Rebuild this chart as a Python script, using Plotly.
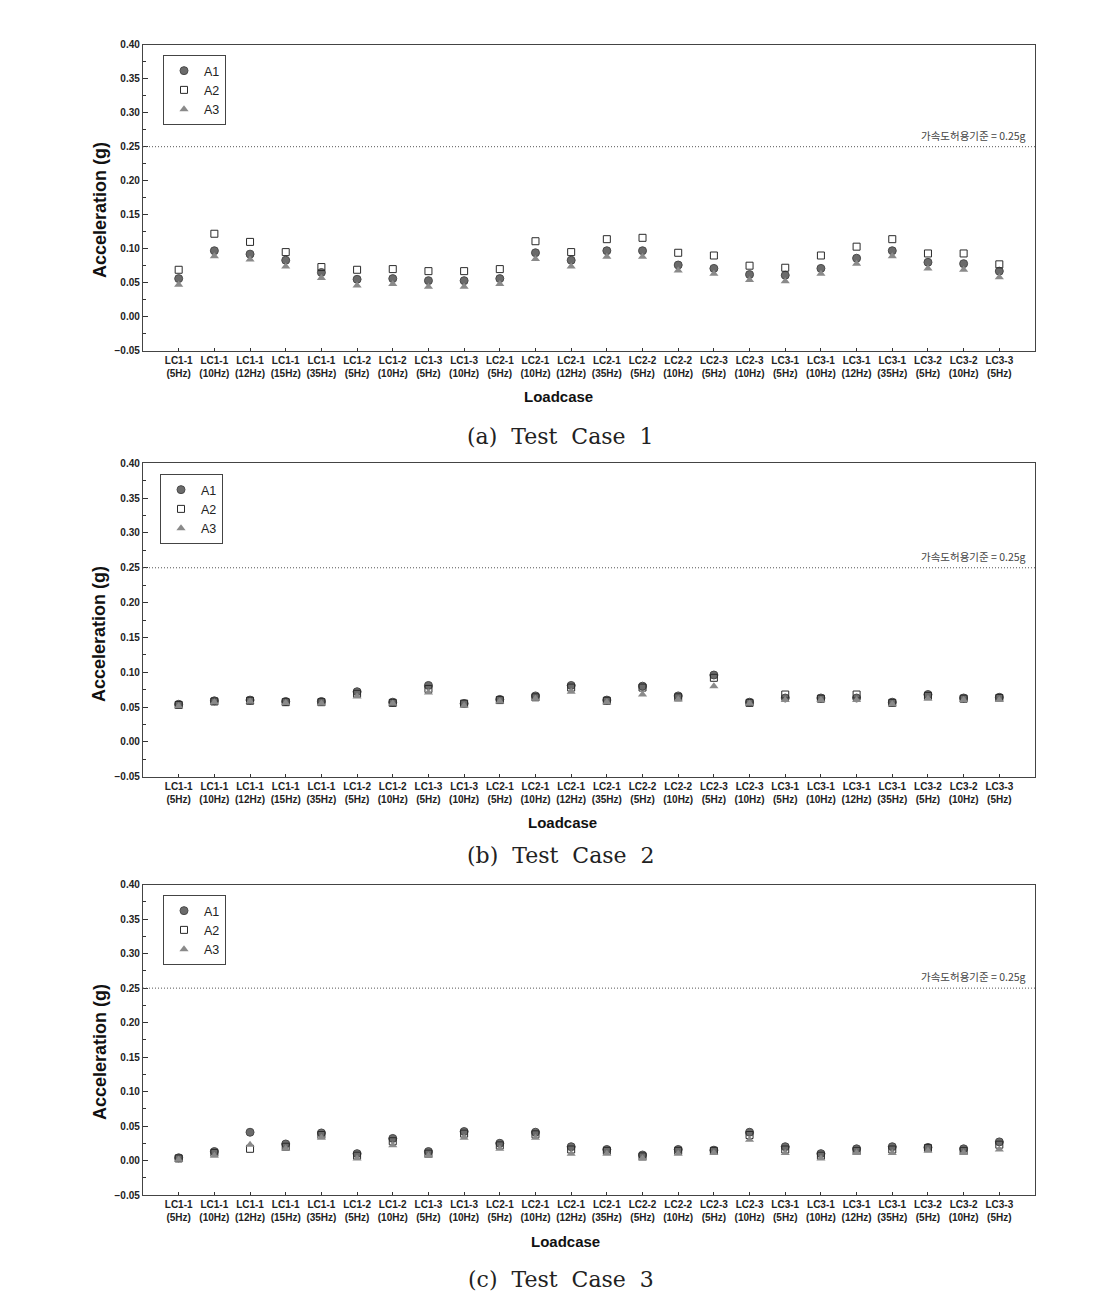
import plotly.graph_objects as go

# ---------------- data ----------------
categories = ["LC1-1<br>(5Hz)", "LC1-1<br>(10Hz)", "LC1-1<br>(12Hz)", "LC1-1<br>(15Hz)", "LC1-1<br>(35Hz)",
              "LC1-2<br>(5Hz)", "LC1-2<br>(10Hz)", "LC1-3<br>(5Hz)", "LC1-3<br>(10Hz)",
              "LC2-1<br>(5Hz)", "LC2-1<br>(10Hz)", "LC2-1<br>(12Hz)", "LC2-1<br>(35Hz)",
              "LC2-2<br>(5Hz)", "LC2-2<br>(10Hz)", "LC2-3<br>(5Hz)", "LC2-3<br>(10Hz)",
              "LC3-1<br>(5Hz)", "LC3-1<br>(10Hz)", "LC3-1<br>(12Hz)", "LC3-1<br>(35Hz)",
              "LC3-2<br>(5Hz)", "LC3-2<br>(10Hz)", "LC3-3<br>(5Hz)"]

tc1_A1 = [0.056, 0.097, 0.092, 0.083, 0.065, 0.055, 0.056, 0.053, 0.053, 0.056, 0.094, 0.083,
          0.097, 0.097, 0.076, 0.071, 0.062, 0.061, 0.071, 0.086, 0.097, 0.080, 0.078, 0.067]
tc1_A2 = [0.069, 0.122, 0.110, 0.095, 0.073, 0.069, 0.070, 0.067, 0.067, 0.070, 0.111, 0.095,
          0.114, 0.116, 0.094, 0.090, 0.075, 0.072, 0.090, 0.103, 0.114, 0.093, 0.093, 0.077]
tc1_A3 = [0.047, 0.089, 0.084, 0.074, 0.057, 0.046, 0.048, 0.044, 0.044, 0.048, 0.085, 0.074,
          0.088, 0.088, 0.068, 0.063, 0.054, 0.052, 0.063, 0.078, 0.089, 0.071, 0.069, 0.058]

tc2_A1 = [0.054, 0.059, 0.060, 0.058, 0.058, 0.072, 0.057, 0.081, 0.055, 0.061, 0.066, 0.081,
          0.060, 0.080, 0.066, 0.096, 0.057, 0.063, 0.063, 0.063, 0.057, 0.068, 0.063, 0.064]
tc2_A2 = [0.053, 0.058, 0.059, 0.057, 0.057, 0.069, 0.056, 0.076, 0.055, 0.060, 0.064, 0.078,
          0.059, 0.078, 0.064, 0.092, 0.056, 0.068, 0.062, 0.068, 0.056, 0.066, 0.062, 0.063]
tc2_A3 = [0.051, 0.057, 0.058, 0.056, 0.055, 0.065, 0.055, 0.071, 0.052, 0.058, 0.062, 0.072,
          0.057, 0.068, 0.061, 0.080, 0.055, 0.060, 0.060, 0.060, 0.054, 0.062, 0.060, 0.060]

tc3_A1 = [0.004, 0.013, 0.041, 0.024, 0.040, 0.010, 0.032, 0.013, 0.042, 0.025, 0.041, 0.020,
          0.016, 0.008, 0.016, 0.015, 0.041, 0.020, 0.010, 0.017, 0.020, 0.019, 0.017, 0.027]
tc3_A2 = [0.003, 0.011, 0.017, 0.020, 0.037, 0.007, 0.028, 0.010, 0.039, 0.022, 0.038, 0.016,
          0.014, 0.006, 0.014, 0.014, 0.037, 0.016, 0.007, 0.014, 0.016, 0.018, 0.014, 0.023]
tc3_A3 = [0.001, 0.007, 0.023, 0.017, 0.033, 0.003, 0.022, 0.007, 0.033, 0.017, 0.033, 0.010,
          0.010, 0.003, 0.010, 0.011, 0.030, 0.011, 0.003, 0.011, 0.011, 0.014, 0.011, 0.016]

series_names = ["A1", "A2", "A3"]
panels = [(tc1_A1, tc1_A2, tc1_A3), (tc2_A1, tc2_A2, tc2_A3), (tc3_A1, tc3_A2, tc3_A3)]
SP = "\u00a0 "
captions = [f"(a){SP}Test{SP}Case{SP}1", f"(b){SP}Test{SP}Case{SP}2", f"(c){SP}Test{SP}Case{SP}3"]
x_title = "Loadcase"
y_title = "Acceleration (g)"
limit_value = 0.25
limit_label = "가속도허용기준 = 0.25g"

# ---------------- layout geometry ----------------
W, H = 1115, 1311
x_dom = [143 / W, 1035 / W]
y_doms = [[1 - 350.7 / H, 1 - 44.7 / H],
          [1 - 776.7 / H, 1 - 463.3 / H],
          [1 - 1195 / H, 1 - 884.7 / H]]
legend_pos = [(163 / W, 1 - 55 / H), (160 / W, 1 - 474 / H), (163 / W, 1 - 895 / H)]
caption_y = [1 - 436 / H, 1 - 855 / H, 1 - 1279 / H]
xtitle_pos = [(558 / W, 1 - 396 / H), (563 / W, 1 - 822 / H), (565 / W, 1 - 1241 / H)]
ytitle_pos = [(100 / W, 1 - 210 / H), (99 / W, 1 - 634 / H), (100 / W, 1 - 1052 / H)]

idx = list(range(len(categories)))
even_idx = idx[::2]

marker_styles = [
    dict(symbol="circle", size=8, color="#6b6b6b", line=dict(color="#4a4a4a", width=1)),
    dict(symbol="square-open", size=7, color="#2a2a2a", line=dict(width=1)),
    dict(symbol="triangle-up", size=8, color="#8a8a8a", line=dict(width=0)),
]

fig = go.Figure()
layout = dict(width=W, height=H, margin=dict(l=0, r=0, t=0, b=0, autoexpand=False),
              paper_bgcolor="white", plot_bgcolor="white",
              font=dict(family="Liberation Sans, Arial, sans-serif", color="#222"),
              shapes=[], annotations=[])

tickfont = dict(family="Liberation Sans, Arial, sans-serif", size=10, color="#222", weight="bold")

for p, data in enumerate(panels):
    n = p + 1
    xa = "x" if n == 1 else f"x{n}"
    ya = "y" if n == 1 else f"y{n}"
    leg = "legend" if n == 1 else f"legend{n}"
    for s, (name, vals) in enumerate(zip(series_names, data)):
        fig.add_trace(go.Scatter(x=idx, y=vals, mode="markers", name=name,
                                 marker=marker_styles[s], xaxis=xa, yaxis=ya,
                                 legend=leg, showlegend=True, hoverinfo="skip"))
    xkey = "xaxis" if n == 1 else f"xaxis{n}"
    ykey = "yaxis" if n == 1 else f"yaxis{n}"
    layout[xkey] = dict(domain=x_dom, anchor=ya, range=[-1, 24], tickmode="array",
                        tickvals=idx, ticktext=categories, ticks="inside", ticklen=3,
                        tickwidth=1, tickcolor="#333", showline=True, mirror=True,
                        linecolor="#444", linewidth=1.4, showgrid=False, zeroline=False,
                        tickfont=tickfont, tickangle=0, automargin=False)
    layout[ykey] = dict(domain=y_doms[p], anchor=xa, range=[-0.05, 0.40], tickmode="linear",
                        tick0=0, dtick=0.05, tickformat=".2f", ticks="inside", ticklen=5,
                        tickwidth=1, tickcolor="#333", showline=True, mirror=True,
                        linecolor="#444", linewidth=1.4, showgrid=False, zeroline=False,
                        tickfont=tickfont, automargin=False,
                        minor=dict(dtick=0.025, tick0=0, ticks="inside", ticklen=3,
                                   tickcolor="#333", showgrid=False))
    # overlay axis for the longer (major) ticks at every second category
    okey = f"xaxis{n + 3}"
    layout[okey] = dict(overlaying=xa, anchor=ya, range=[-1, 24], tickmode="array",
                        tickvals=even_idx, ticks="inside", ticklen=6, tickwidth=1,
                        tickcolor="#333", showticklabels=False, showline=False,
                        showgrid=False, zeroline=False, automargin=False)
    lx, ly = legend_pos[p]
    layout[leg] = dict(x=lx, y=ly, xanchor="left", yanchor="top",
                       bordercolor="#444", borderwidth=1, bgcolor="white",
                       font=dict(size=12.5, color="#222"), tracegroupgap=0,
                       itemwidth=30)
    # axis titles
    tx, ty = xtitle_pos[p]
    layout["annotations"].append(dict(text=f"<b>{x_title}</b>", xref="paper", yref="paper",
                                      x=tx, y=ty, xanchor="center", yanchor="middle",
                                      showarrow=False, font=dict(size=15, color="#111")))
    tx, ty = ytitle_pos[p]
    layout["annotations"].append(dict(text=f"<b>{y_title}</b>", xref="paper", yref="paper",
                                      x=tx, y=ty, xanchor="center", yanchor="middle",
                                      textangle=-90, showarrow=False,
                                      font=dict(size=18, color="#111")))
    # limit line
    layout["shapes"].append(dict(type="line", xref=f"{xa} domain", yref=ya,
                                 x0=0, x1=1, y0=limit_value, y1=limit_value,
                                 line=dict(color="#555", width=1, dash="1px,2px")))
    layout["annotations"].append(dict(text=limit_label, xref=f"{xa} domain", yref=ya,
                                      x=0.992, y=limit_value, xanchor="right", yanchor="bottom",
                                      yshift=2, showarrow=False,
                                      font=dict(family="Noto Sans CJK KR", size=10.5, color="#444")))
    layout["annotations"].append(dict(text=captions[p], xref="paper", yref="paper",
                                      x=0.503, y=caption_y[p], xanchor="center", yanchor="middle",
                                      showarrow=False,
                                      font=dict(family="DejaVu Serif, Liberation Serif, serif",
                                                size=22, color="#222")))

fig.update_layout(**layout)
fig.write_html("out.html")
